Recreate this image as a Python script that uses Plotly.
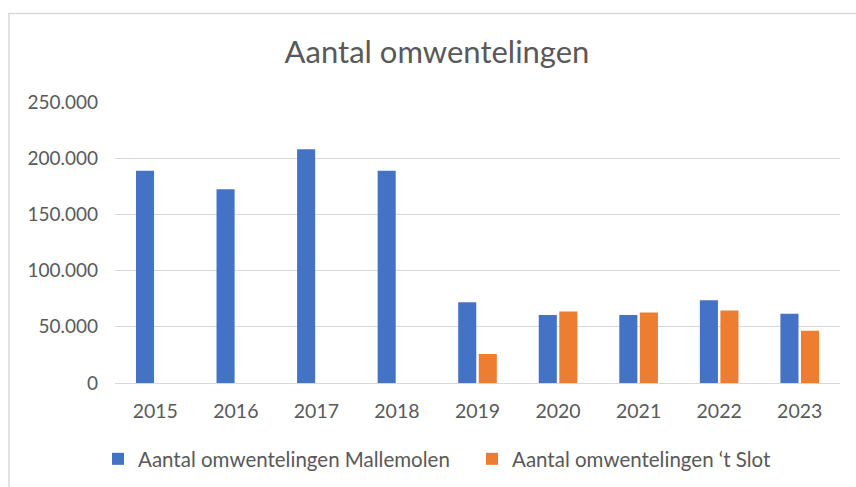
import plotly.graph_objects as go

years = ["2015", "2016", "2017", "2018", "2019", "2020", "2021", "2022", "2023"]
mallemolen = [188800, 172300, 208000, 188800, 71800, 60400, 60400, 73700, 61500]
slot = [None, None, None, None, 25800, 63600, 62700, 64500, 46400]
y_ticks = [0, 50000, 100000, 150000, 200000, 250000]

BLUE = "#4472C4"
ORANGE = "#ED7D31"
TXT = "#595959"
FONT = "Lato"

L, R, T, B = 115, 16, 101.7, 103.7
W, H = 856, 487
pw = W - L - R
ph = H - T - B


def px2x(px):
    return (px - L) / pw


def py2y(py):
    return (H - B - py) / ph


fig = go.Figure()
fig.add_trace(go.Bar(x=years, y=mallemolen, name="Aantal omwentelingen Mallemolen",
                     marker=dict(color=BLUE, line=dict(width=0)), legend="legend"))
fig.add_trace(go.Bar(x=years, y=slot, name="Aantal omwentelingen \u2018t Slot",
                     marker=dict(color=ORANGE, line=dict(width=0)), legend="legend2"))

leg_common = dict(orientation="h", yref="container", yanchor="middle", y=(H - 459) / H,
                  xanchor="left",
                  font=dict(family=FONT, size=20.5, color=TXT), itemwidth=30,
                  bgcolor="rgba(0,0,0,0)", borderwidth=0)

fig.update_layout(
    width=W, height=H,
    margin=dict(l=L, r=R, t=T, b=B, pad=0),
    paper_bgcolor="white", plot_bgcolor="white",
    separators=",.",
    barmode="group", bargap=0.49, bargroupgap=0.12,
    font=dict(family=FONT, color=TXT, size=19),
    title=dict(text="Aantal omwentelingen", x=px2x(437), xref="paper", xanchor="center",
               y=1 - 52 / H, yanchor="middle", yref="container",
               font=dict(family=FONT, size=31, color=TXT)),
    xaxis=dict(showgrid=False, showline=False, zeroline=False, ticks="",
               tickfont=dict(size=19.5, color=TXT), ticklabelstandoff=14),
    yaxis=dict(range=[0, 250000], tickvals=y_ticks, tickformat=",d",
               showgrid=True, gridcolor="#D9D9D9", gridwidth=1,
               zeroline=True, zerolinecolor="#D9D9D9", zerolinewidth=1,
               showline=False, ticks="", ticklabelstandoff=16,
               tickfont=dict(size=19, color=TXT)),
    legend=dict(leg_common, x=px2x(98)),
    legend2=dict(leg_common, x=px2x(472)),
    showlegend=True,
    shapes=[dict(type="rect", xref="paper", yref="paper",
                 x0=px2x(9), x1=px2x(870), y0=py2y(500), y1=py2y(13),
                 line=dict(color="#D9D9D9", width=1.5), fillcolor="rgba(0,0,0,0)", layer="below")],
)

fig.write_html("out.html", config={"displayModeBar": False},
               post_script="document.body.style.margin='0';document.body.style.overflow='hidden';")
